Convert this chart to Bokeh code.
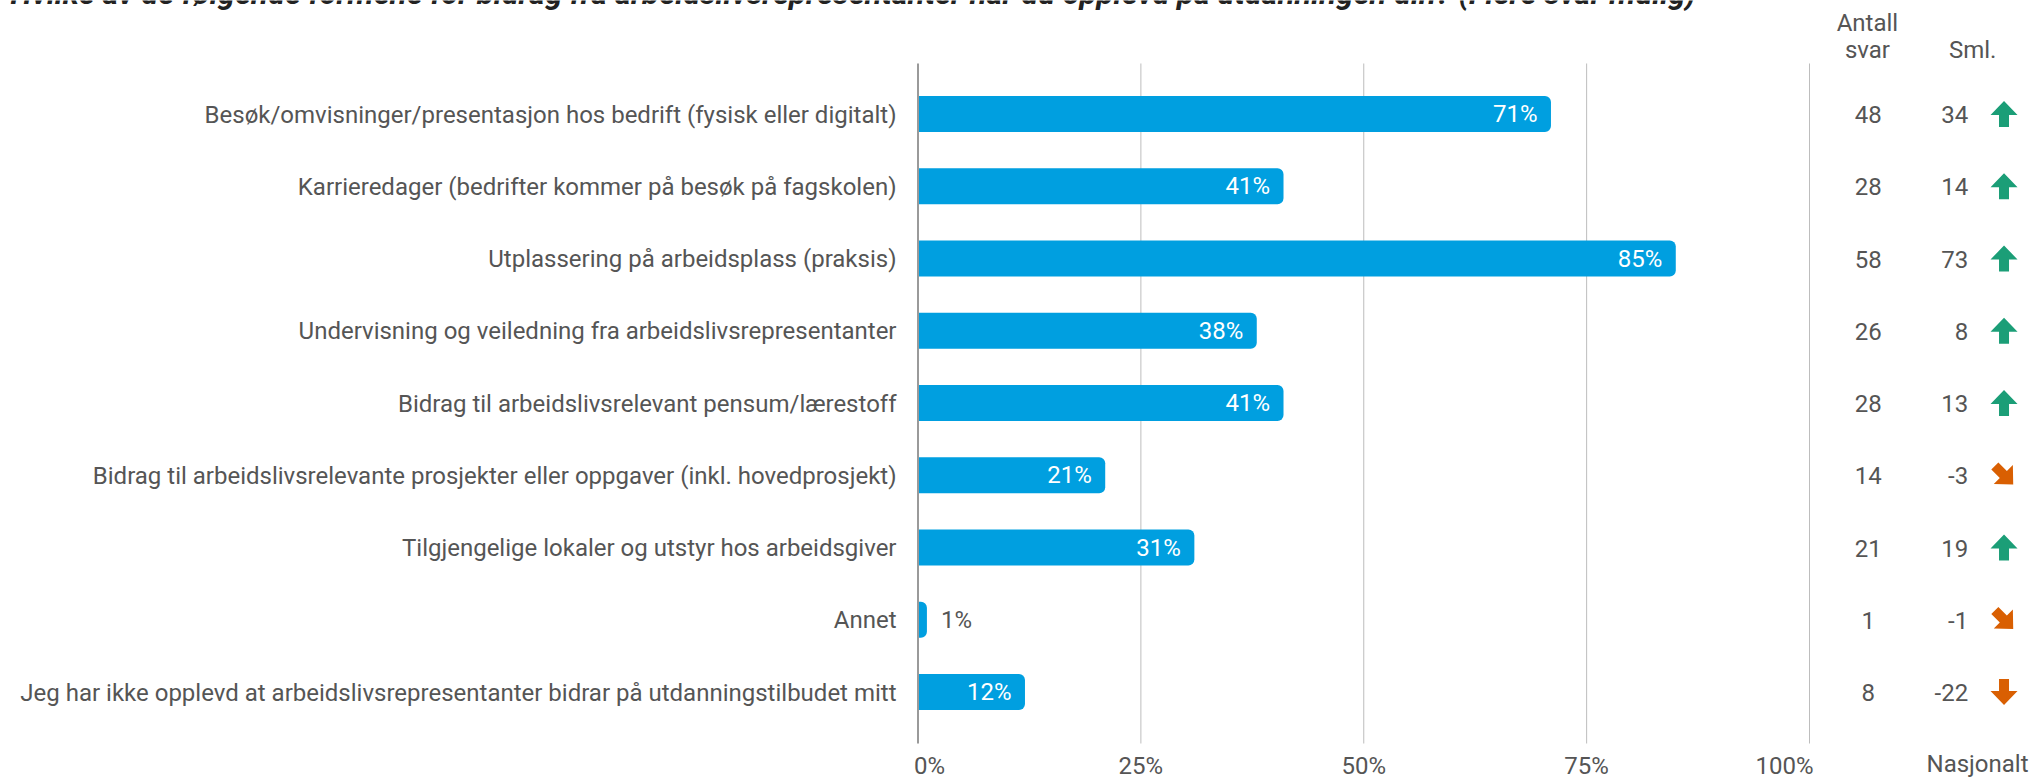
from bokeh.plotting import figure
from bokeh.models import Range1d
from bokeh.core.properties import value
from bokeh.embed import file_html
from bokeh.resources import INLINE
import math

# ---------------- data ----------------
title_text = ("Hvilke av de følgende formene for bidrag fra arbeidslivsrepresentanter "
              "har du opplevd på utdanningen din? (Flere svar mulig)")
categories = [
    "Besøk/omvisninger/presentasjon hos bedrift (fysisk eller digitalt)",
    "Karrieredager (bedrifter kommer på besøk på fagskolen)",
    "Utplassering på arbeidsplass (praksis)",
    "Undervisning og veiledning fra arbeidslivsrepresentanter",
    "Bidrag til arbeidslivsrelevant pensum/lærestoff",
    "Bidrag til arbeidslivsrelevante prosjekter eller oppgaver (inkl. hovedprosjekt)",
    "Tilgjengelige lokaler og utstyr hos arbeidsgiver",
    "Annet",
    "Jeg har ikke opplevd at arbeidslivsrepresentanter bidrar på utdanningstilbudet mitt",
]
shares = [71, 41, 85, 38, 41, 21, 31, 1, 12]
antall_svar = [48, 28, 58, 26, 28, 14, 21, 1, 8]
sml_nasjonalt = [34, 14, 73, 8, 13, -3, 19, -1, -22]
trend = ["up", "up", "up", "up", "up", "down_right", "up", "down_right", "down"]
tick_values = [0, 25, 50, 75, 100]
tick_labels = ["0%", "25%", "50%", "75%", "100%"]

# ---------------- layout / style ----------------
W, H = 2031, 779
X0_PX = 917.5          # pixel position of 0 %
PX_PER_PCT = 8.915
ROW_PX = 72.25
ROW0_PX = 113.5

FONT = value("Roboto")
FS = "24px"
GRAY = "#555555"
BAR = "#009fe0"
GREEN = "#1b9e77"
ORANGE = "#d95f02"

COL_ANTALL = 106.6
COL_SML = 117.8
COL_ARROW = 121.82
COL_NASJ = 118.85
COL_TITLE = -101.8

p = figure(width=W, height=H, output_backend="svg", toolbar_location=None,
           x_range=Range1d(-X0_PX / PX_PER_PCT, (W - X0_PX) / PX_PER_PCT),
           y_range=Range1d((H - ROW0_PX) / ROW_PX, -ROW0_PX / ROW_PX),
           x_axis_location=None, y_axis_location=None,
           min_border=0, outline_line_color=None)
p.grid.visible = False
p.background_fill_color = "white"
p.border_fill_color = "white"

n = len(categories)
rows = list(range(n))
g_top, g_bot = -0.699, (n - 1) + 0.713

# title (cut at the top edge, as in the reference)
p.text(x=[COL_TITLE], y=[-1.668], text=[title_text], text_align="left",
       text_baseline="middle", text_font=FONT, text_font_size="31px",
       text_font_style="bold italic", text_color="#222222")

# grid lines
grid_x = [t for t in tick_values if t > 0]
p.segment(x0=grid_x, x1=grid_x, y0=[g_top] * len(grid_x), y1=[g_bot] * len(grid_x),
          line_color="#bdbdbd", line_width=1)

# bars
p.hbar(y=rows, left=0, right=shares, height=0.5, fill_color=BAR, line_color=None,
       border_radius=(0, 6, 6, 0))

# zero axis line
p.segment(x0=[0], x1=[0], y0=[g_top], y1=[g_bot], line_color="#9a9a9a", line_width=2)

# category labels
p.text(x=[0] * n, y=rows, text=categories, x_offset=-21.5, y_offset=0.5,
       text_align="right", text_baseline="middle", text_font=FONT,
       text_font_size=FS, text_color=GRAY)

# bar value labels
ins = [i for i in rows if shares[i] >= 5]
outs = [i for i in rows if shares[i] < 5]
p.text(x=[shares[i] for i in ins], y=ins, text=[f"{shares[i]}%" for i in ins],
       x_offset=-13.5, y_offset=0, text_align="right", text_baseline="middle",
       text_font=FONT, text_font_size=FS, text_color="white")
p.text(x=[shares[i] for i in outs], y=outs, text=[f"{shares[i]}%" for i in outs],
       x_offset=14, y_offset=0, text_align="left", text_baseline="middle",
       text_font=FONT, text_font_size=FS, text_color=GRAY)

# columns
p.text(x=[COL_ANTALL] * n, y=rows, text=[str(v) for v in antall_svar], y_offset=0.5,
       text_align="center", text_baseline="middle", text_font=FONT,
       text_font_size=FS, text_color=GRAY)
p.text(x=[COL_SML] * n, y=rows, text=[str(v) for v in sml_nasjonalt], y_offset=0.5,
       text_align="right", text_baseline="middle", text_font=FONT,
       text_font_size=FS, text_color=GRAY)

# headers
p.text(x=[106.5, 106.5, 118.3], y=[-1.266, -0.885, -0.885],
       text=["Antall", "svar", "Sml."], text_align="center", text_baseline="middle",
       text_font=FONT, text_font_size=FS, text_color=GRAY)

# x tick labels + footer
p.text(x=tick_values, y=[9.021] * len(tick_values), text=tick_labels,
       x_offset=[11.5, 0, 0, 0, -25], text_align="center", text_baseline="middle",
       text_font=FONT, text_font_size=FS, text_color=GRAY)
p.text(x=[COL_NASJ], y=[9.003], text=["Nasjonalt"], text_align="center",
       text_baseline="middle", text_font=FONT, text_font_size=FS, text_color=GRAY)

# trend arrows (shape template in pixels, rotated per direction)
arrow_px = [(0, -13), (13.5, 1), (5, 1), (5, 13), (-5, 13), (-5, 1), (-13.5, 1)]
angles = {"up": 0, "down_right": 135, "down": 180}
xs, ys, cols = [], [], []
for i in rows:
    a = math.radians(angles[trend[i]])
    ca, sa = math.cos(a), math.sin(a)
    px = [x * ca - y * sa for x, y in arrow_px]
    py = [x * sa + y * ca for x, y in arrow_px]
    xs.append([COL_ARROW + v / PX_PER_PCT for v in px])
    ys.append([i + v / ROW_PX for v in py])
    cols.append(GREEN if sml_nasjonalt[i] > 0 else ORANGE)
p.patches(xs=xs, ys=ys, fill_color=cols, line_color=None)

open("out.html", "w").write(file_html(p, INLINE))
